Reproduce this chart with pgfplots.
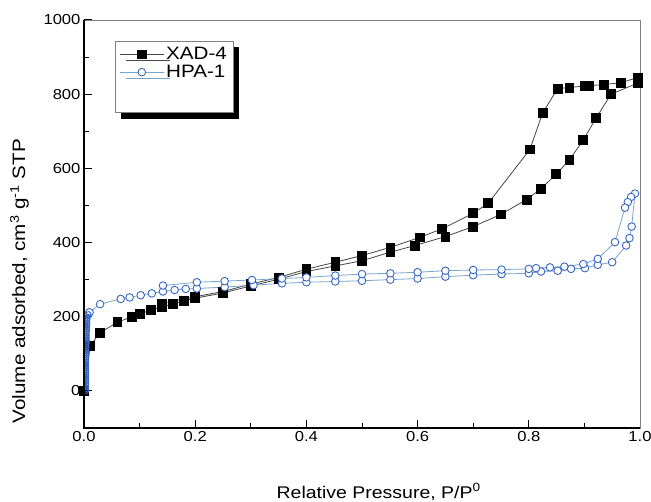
\documentclass[border=0pt]{standalone}
\usepackage{fontspec}
\setmainfont{Liberation Sans}[FakeStretch=1.15]
\usepackage{pgfplots}
\pgfplotsset{compat=1.18}
\usetikzlibrary{shadows}
\definecolor{hpablue}{RGB}{52,102,196}
\definecolor{hpaline}{RGB}{120,165,205}
\definecolor{xadline}{RGB}{70,70,70}
\begin{document}
\begin{tikzpicture}
\begin{axis}[
  name=ax,
  scale only axis, width=556bp, height=408bp,
  xmin=0, xmax=1, ymin=-100, ymax=1000,
  xtick={0,0.2,0.4,0.6,0.8,1.0}, ytick={0,200,400,600,800,1000},
  minor x tick num=1, minor y tick num=1,
  tick pos=left, tick align=inside,
  major tick length=8bp, minor tick length=5bp,
  every tick/.style={black, line width=1pt},
  axis line style={gray, line width=0.9pt},
  /pgf/number format/assume math mode=true,
  xticklabel style={/pgf/number format/.cd, fixed, fixed zerofill, precision=1},
  yticklabel style={/pgf/number format/1000 sep={}},
  tick label style={font=\fontsize{14.5}{16}\selectfont},
  xlabel={Relative Pressure, P/P\textsuperscript{0}},
  ylabel={Volume adsorbed, cm\textsuperscript{3} g\textsuperscript{-1} STP},
  xlabel style={font=\fontsize{17}{20}\selectfont, at={(rel axis cs:0.53,-0.1716)}, anchor=base},
  ylabel style={font=\fontsize{18}{20}\selectfont, at={(rel axis cs:-0.1061,0.36)}, anchor=base},
  legend style={at={(0.0558,0.9485)}, anchor=north west, draw=gray, line width=0.8pt,
    fill=white, font=\fontsize{18}{21}\selectfont,
    drop shadow={shadow xshift=6bp, shadow yshift=-6bp, fill=black, opacity=1},
    row sep=0bp, inner xsep=4bp, inner ysep=4bp},
  legend cell align=left,
  legend image code/.code={\draw[mark repeat=2,mark phase=2] plot coordinates {(0bp,0bp) (22bp,0bp) (44bp,0bp)};},
]
\addplot[color=xadline, line width=0.8pt, mark=square*, mark size=4.4bp, mark options={fill=black, draw=black}] coordinates {
(0.0005,0) (0.011,122) (0.029,157) (0.06,185) (0.086,200) (0.1,207)
(0.12,218) (0.14,227) (0.16,234) (0.18,243) (0.2,250) (0.25,264) (0.3,283) (0.35,301)
(0.4,322) (0.452,337) (0.5,351) (0.551,374) (0.595,392) (0.65,416) (0.7,443) (0.75,476)
(0.796,516) (0.822,545) (0.849,584) (0.873,623) (0.898,676) (0.921,736) (0.948,800) (0.996,830)
(0.996,845) (0.966,831) (0.935,826) (0.909,823) (0.9,822) (0.873,818) (0.852,815) (0.825,750)
(0.802,651) (0.727,506) (0.7,479) (0.644,437) (0.604,414) (0.551,387) (0.5,365) (0.452,347)
(0.4,328) (0.35,306) (0.3,288) (0.25,268) (0.2,254) (0.14,236)
};
\addlegendentry{XAD-4}
\addplot[color=hpaline, line width=0.8pt, mark=*, mark size=3.8bp, mark options={fill=white, draw=hpablue, line width=0.9pt}] coordinates {
(0.008,207) (0.01,212) (0.029,234) (0.066,248) (0.082,252) (0.102,258) (0.122,263) (0.142,268)
(0.163,272) (0.183,275) (0.203,276) (0.253,280) (0.305,285) (0.356,290) (0.4,293) (0.452,295)
(0.5,297) (0.551,300) (0.6,303) (0.65,308) (0.7,312) (0.751,315) (0.8,317) (0.822,322)
(0.852,324) (0.876,329) (0.901,331) (0.924,340) (0.95,347) (0.975,392) (0.981,412) (0.985,443)
(0.991,532) (0.984,523) (0.978,509) (0.973,494) (0.955,401) (0.924,356) (0.898,342) (0.864,335)
(0.838,333) (0.813,331) (0.8,329) (0.751,327) (0.7,326) (0.65,324) (0.6,320) (0.551,317)
(0.5,315) (0.452,311) (0.4,306) (0.356,303) (0.302,299) (0.253,296) (0.203,293) (0.142,284)
};
\addlegendentry{HPA-1}
\addplot[forget plot, color=hpablue, line width=0.8pt, mark=o, mark size=2.5bp, mark options={draw=hpablue, line width=0.9pt}] coordinates {
(0.004,0) (0.004,5) (0.004,10) (0.004,15) (0.004,20) (0.004,25) (0.004,30) (0.004,35) (0.004,40)
(0.004,45) (0.004,50) (0.004,55) (0.004,60) (0.004,65) (0.004,70) (0.004,75) (0.004,80) (0.004,85)
(0.004,90) (0.0045,95) (0.0045,100) (0.0045,105) (0.0045,110) (0.0045,115) (0.0045,120) (0.0045,125)
(0.005,130) (0.005,135) (0.005,140) (0.005,145) (0.005,150) (0.005,155) (0.005,160) (0.0055,165)
(0.0055,170) (0.0055,175) (0.006,180) (0.006,185) (0.006,190) (0.0065,195) (0.007,200) (0.008,207)
};
\addlegendimage{empty legend}
\addlegendentry{\rule{0pt}{22bp}}
\end{axis}
\draw[black, line width=1.5pt] (ax.north west) -- (ax.south west) -- (ax.south east);
\pgfresetboundingbox
\path ([shift={(-84bp,-74bp)}]ax.south west) rectangle ([shift={(11bp,20bp)}]ax.north east);
\end{tikzpicture}
\end{document}
